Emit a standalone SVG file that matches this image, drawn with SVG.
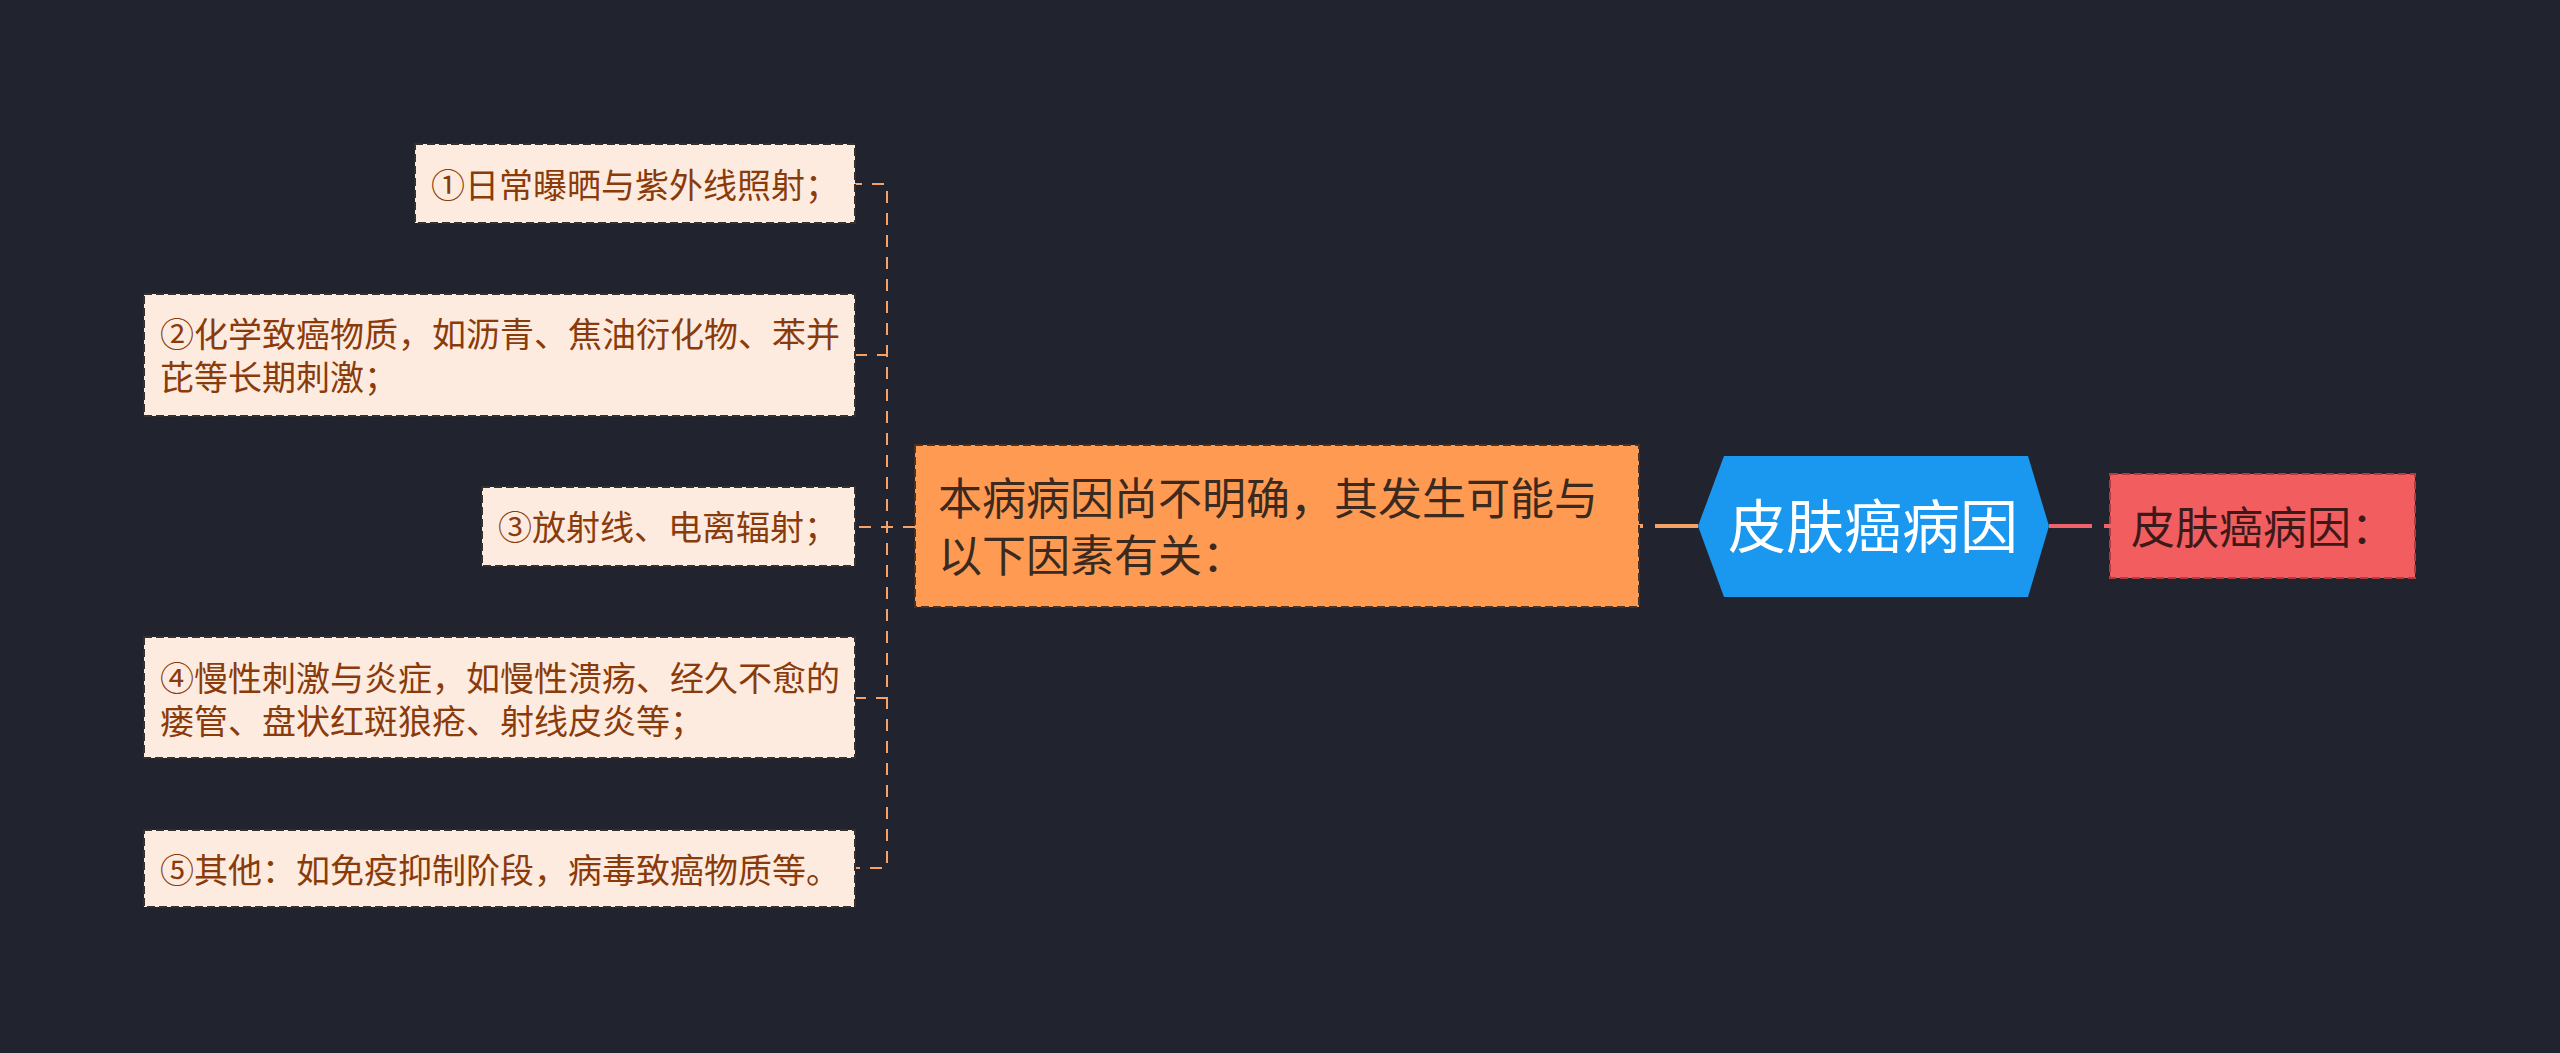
<svg xmlns="http://www.w3.org/2000/svg" width="2560" height="1053" viewBox="0 0 2560 1053">
<style>
text{font-family:"Noto Sans CJK SC","Noto Sans",sans-serif;}
.leaf rect{fill:#FDEBDF;stroke:#34302e;stroke-width:2;stroke-dasharray:8 4;}
.leaf text{font-size:34px;fill:#8A3B0B;}
.conn{fill:none;stroke:#F4A266;stroke-width:2;stroke-dasharray:12 10;}
.thick{fill:none;stroke-width:4;stroke-dasharray:43 12;}
</style>
<rect x="0" y="0" width="2560" height="1053" fill="#21242F"/>
<g id="connectors">
<path class="conn" d="M915 527 L887 527 L887 184 L855 184"/>
<path class="conn" d="M915 527 L887 527 L887 355 L855 355"/>
<path class="conn" d="M915 527 L855 527"/>
<path class="conn" d="M915 527 L887 527 L887 698 L855 698"/>
<path class="conn" d="M915 527 L887 527 L887 868 L855 868"/>
<path class="thick" stroke="#F4A266" d="M1698 526 L1637 526"/>
<path class="thick" stroke="#F0636A" d="M2049 526 L2110 526"/>
</g>
<g id="leaf1" class="leaf"><rect x="415" y="144" width="440" height="79"/><text x="431" y="198">①日常曝晒与紫外线照射；</text></g>
<g id="leaf2" class="leaf"><rect x="144" y="294" width="711" height="122"/><text x="160" y="347">②化学致癌物质，如沥青、焦油衍化物、苯并<tspan x="160" y="390">芘等长期刺激；</tspan></text></g>
<g id="leaf3" class="leaf"><rect x="482" y="487" width="373" height="79"/><text x="498" y="540">③放射线、电离辐射；</text></g>
<g id="leaf4" class="leaf"><rect x="144" y="637" width="711" height="121"/><text x="160" y="691">④慢性刺激与炎症，如慢性溃疡、经久不愈的<tspan x="160" y="734">瘘管、盘状红斑狼疮、射线皮炎等；</tspan></text></g>
<g id="leaf5" class="leaf"><rect x="144" y="830" width="711" height="77"/><text x="160" y="883">⑤其他：如免疫抑制阶段，病毒致癌物质等。</text></g>
<g id="cause"><rect x="915" y="445" width="724" height="162" fill="#FF9A52" stroke="#4a3222" stroke-width="2" stroke-dasharray="8 4"/><text x="938" y="515" font-size="44" fill="#3A2A20">本病病因尚不明确，其发生可能与<tspan x="938" y="572">以下因素有关：</tspan></text></g>
<g id="center"><polygon points="1698,526 1724,456 2028,456 2049,526 2028,597 1724,597" fill="#1A97EE"/><text x="1873" y="548" font-size="58" fill="#FFFFFF" text-anchor="middle">皮肤癌病因</text></g>
<g id="title"><rect x="2110" y="474" width="305" height="104" fill="#F25D5F" stroke="#B33A3E" stroke-width="2" stroke-dasharray="8 4"/><text x="2131" y="544" font-size="44" fill="#3D1A1A">皮肤癌病因：</text></g>
</svg>
